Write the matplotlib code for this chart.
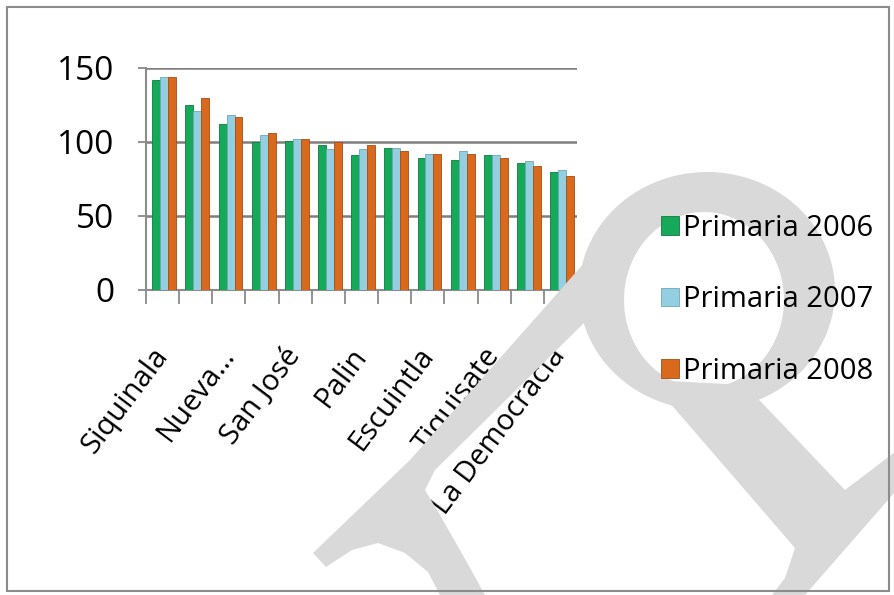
import numpy as np
import matplotlib
matplotlib.use("Agg")
import matplotlib.pyplot as plt
from matplotlib.patches import Polygon, Rectangle, PathPatch
from matplotlib.path import Path

plt.rcParams["font.family"] = ["Open Sans", "DejaVu Sans"]

# ---------------- data ----------------
tick_labels = ["Siquinala", "", "Nueva…", "", "San José", "", "Palin", "",
               "Escuintla", "", "Tiquisate", "", "La Democracia"]
series_names = ["Primaria 2006", "Primaria 2007", "Primaria 2008"]
primaria_2006 = [142, 125, 112, 100, 101, 98, 91, 96, 89, 88, 91, 86, 80]
primaria_2007 = [144, 121, 118, 105, 102, 95, 95, 96, 92, 94, 91, 87, 81]
primaria_2008 = [144, 130, 117, 106, 102, 100, 98, 94, 92, 92, 89, 84, 77]
yticks = [0, 50, 100, 150]

colors = ["#17a95a", "#93cfe0", "#d9691c"]
edges = ["#0f7a40", "#6aaabb", "#a64d12"]

W, H = 895, 595
fig = plt.figure(figsize=(W / 100, H / 100), dpi=100)


def px(x, y):
    return (x / W, 1 - y / H)


# ---------------- watermark (background "P" shape) ----------------
wm = "#d9d9d9"
t = np.linspace(0, 2 * np.pi, 120)
outer = np.column_stack([707 + 128 * np.cos(t), 291 + 119 * np.sin(t)])
inner = np.column_stack([704 + 80 * np.cos(t), 300 + 88 * np.sin(t)])[::-1]
ring_verts = [px(x, y) for x, y in outer] + [px(x, y) for x, y in inner]
codes = ([Path.MOVETO] + [Path.LINETO] * (len(outer) - 2) + [Path.CLOSEPOLY]) * 2
fig.patches.append(PathPatch(Path(ring_verts, codes), facecolor=wm, edgecolor="none",
                             transform=fig.transFigure, zorder=0))

leg_left = [(585, 262), (410, 460), (313, 553), (326, 567), (352, 550), (378, 543),
            (405, 553), (428, 572), (440, 595), (485, 595), (460, 550), (440, 515),
            (425, 490), (435, 470), (585, 322), (615, 295)]
leg_right = [(650, 380), (745, 385), (845, 490), (895, 452), (895, 492), (805, 595),
             (772, 595), (785, 578), (795, 548)]
for pts in (leg_left, leg_right):
    fig.patches.append(Polygon([px(x, y) for x, y in pts], closed=True, facecolor=wm,
                               edgecolor="none", transform=fig.transFigure, zorder=0))

# outer chart border
fig.patches.append(Rectangle(px(7, 591), 882 / W, 584 / H, fill=False, edgecolor="#8c8c8c",
                             lw=1.5, transform=fig.transFigure, zorder=5))

# ---------------- bars ----------------
ax = fig.add_axes([146 / W, 1 - 290 / H, 431 / W, 222 / H])
ax.patch.set_alpha(0)

x = np.arange(len(tick_labels))
bw = 0.24
for i, vals in enumerate([primaria_2006, primaria_2007, primaria_2008]):
    ax.bar(x + (i - 1) * bw + 0.05, vals, width=bw, color=colors[i], edgecolor=edges[i],
           linewidth=0.6, label=series_names[i], zorder=3)

ax.set_xlim(-0.5, len(tick_labels) - 0.5)
ax.set_ylim(0, 150)
ax.set_yticks(yticks)
ax.set_xticks(np.arange(len(tick_labels) + 1) - 0.5, minor=True)
ax.set_xticks(x)
ax.set_xticklabels(tick_labels, rotation=53, ha="right", va="center",
                   rotation_mode="anchor", fontsize=21)
ax.tick_params(axis="x", which="major", length=0, pad=44)
ax.tick_params(axis="x", which="minor", length=10, color="#808080", width=1.2)
ax.tick_params(axis="y", length=6, color="#808080", width=1.2, pad=17, labelsize=24)

ax.yaxis.grid(True, color="#7f7f7f", lw=1.8)
ax.set_axisbelow(True)
for s in ["top", "right"]:
    ax.spines[s].set_visible(False)
for s in ["left", "bottom"]:
    ax.spines[s].set_color("#8c8c8c")
    ax.spines[s].set_linewidth(1.5)

handles, labels = ax.get_legend_handles_labels()
fig.legend(handles, labels, loc="upper left", bbox_to_anchor=px(661, 214), frameon=False,
           fontsize=21, handlelength=0.62, handleheight=0.62, handletextpad=0.12,
           labelspacing=1.45, borderpad=0, borderaxespad=0)

fig.savefig("out.png", dpi=100)
